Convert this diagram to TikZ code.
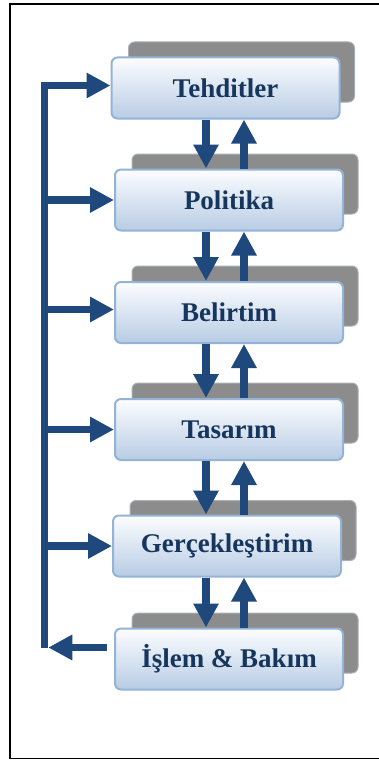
\documentclass[tikz,border=0pt]{standalone}
\usepackage{fontspec}
\setmainfont{Liberation Serif}
\usetikzlibrary{arrows.meta,calc}
\definecolor{arrowblue}{RGB}{31,73,125}
\definecolor{textnavy}{RGB}{23,54,93}
\definecolor{boxborder}{RGB}{149,179,215}
\definecolor{boxtop}{RGB}{252,253,255}
\definecolor{boxbottom}{RGB}{184,204,228}
\definecolor{shadowgray}{RGB}{140,140,140}
\definecolor{shadowedge}{RGB}{170,176,186}
\tikzset{
  stagebox/.style={draw=boxborder, line width=2pt, rounded corners=6pt,
    top color=boxtop, bottom color=boxbottom, minimum width=228pt,
    minimum height=61pt, inner sep=0pt, text=textnavy,
    font=\fontsize{27}{32}\selectfont\bfseries},
  shadowbox/.style={draw=shadowedge, line width=1pt, rounded corners=6pt,
    fill=shadowgray, minimum width=226pt, minimum height=60pt, inner sep=0pt},
  bigarrow/.style={draw=arrowblue, line width=7.5pt, line join=miter,
    -{Triangle[length=24pt,width=24pt]}},
}
\begin{document}
\begin{tikzpicture}[x=1pt,y=-1pt]
\useasboundingbox (0,0) rectangle (379,760);
\clip (0,0) rectangle (379,760);
\fill[white] (0,0) rectangle (379,760);
\draw[line width=1.6pt] (9.8,4.2) rectangle (420,758.6);

% shadows
\node[shadowbox] (s1) at (241.5,72) {};
\node[shadowbox] (s2) at (245,184) {};
\node[shadowbox] (s3) at (245,296) {};
\node[shadowbox] (s4) at (245,413) {};
\node[shadowbox] (s5) at (243,530.5) {};
\node[shadowbox] (s6) at (245,643) {};

% boxes
\node[stagebox] (b1) at (225.5,88) {Tehditler};
\node[stagebox] (b2) at (229,200) {Politika};
\node[stagebox] (b3) at (229,312.5) {Belirtim};
\node[stagebox] (b4) at (229,429.5) {Tasarım};
\node[stagebox] (b5) at (227,546) {Gerçekleştirim};
\node[stagebox] (b6) at (229,659) {İşlem \& Bakım};

% vertical arrow columns
\coordinate (dx) at (206,0);
\coordinate (ux) at (244,0);
\foreach \a/\b in {b1/b2,b2/b3,b3/b4,b4/b5,b5/b6}{
  \draw[bigarrow] (dx |- \a.south) -- (dx |- \b.north);
  \draw[bigarrow] (ux |- \b.north) -- (ux |- \a.south);
}

% left feedback line
\coordinate (lx) at (44.5,0);
\coordinate (bottom) at (44.5,647.5);
\coordinate (top) at (44.5,85.5);
\draw[bigarrow] (bottom) -- (top) -- ([yshift=2.5pt]b1.west);
\draw[bigarrow] (lx |- b2.west) -- (b2.west);
\draw[bigarrow] ([yshift=3pt]lx |- b3.west) -- ([yshift=3pt]b3.west);
\draw[bigarrow] (lx |- b4.west) -- (b4.west);
\draw[bigarrow] (lx |- b5.west) -- (b5.west);
\draw[bigarrow, shorten <=7pt] ([yshift=11.5pt]b6.west) -- ([xshift=3.75pt,yshift=11.5pt]lx |- b6.west);
\end{tikzpicture}
\end{document}
